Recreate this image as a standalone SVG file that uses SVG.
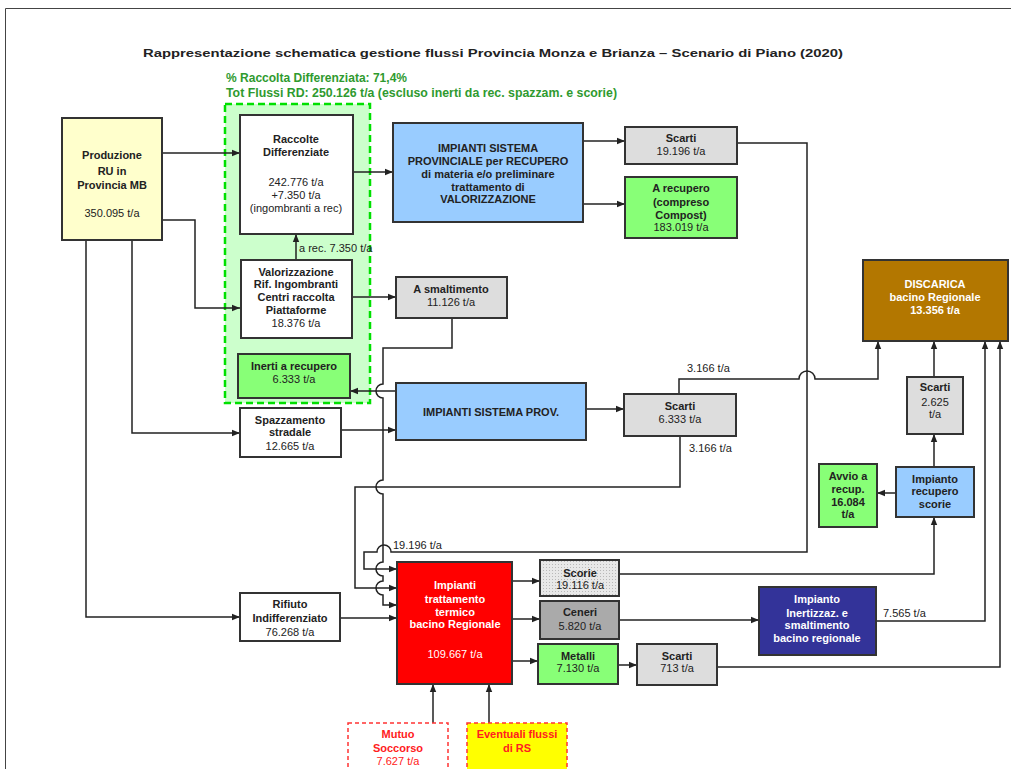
<svg xmlns="http://www.w3.org/2000/svg" width="1011" height="769" viewBox="0 0 1011 769">
<defs>
<style>
.bx{stroke:#333;stroke-width:2}
.c{fill:none;stroke:#222;stroke-width:1.5}
.ca{fill:none;stroke:#222;stroke-width:1.5;marker-end:url(#a)}
text{font-family:'Liberation Sans',Arial,sans-serif;font-size:11px;fill:#222}
.b{font-weight:bold;text-anchor:middle}
.n{text-anchor:middle}
.w{fill:#fff}
.r{fill:#ff2020}
.g{fill:#2f9a2f;font-weight:bold;font-size:12px}
</style>
<marker id="a" viewBox="0 0 10 10" refX="10" refY="5" markerWidth="8" markerHeight="8" markerUnits="userSpaceOnUse" orient="auto"><path d="M0,1 L10,5 L0,9 z" fill="#222"/></marker>
<pattern id="dots" width="3" height="3" patternUnits="userSpaceOnUse"><rect width="3" height="3" fill="#e8e8e8"/><rect width="1" height="1" fill="#b8b8b8"/></pattern>
</defs>
<rect width="1011" height="769" fill="#fff"/>
<path d="M5.5,769 V8.5 H1011" fill="none" stroke="#444" stroke-width="1"/>

<g id="title">
<text x="143" y="57" font-size="15" font-weight="bold" textLength="700" lengthAdjust="spacingAndGlyphs" fill="#111">Rappresentazione schematica gestione flussi Provincia Monza e Brianza – Scenario di Piano (2020)</text>
<text class="g" x="226" y="82" textLength="181" lengthAdjust="spacingAndGlyphs">% Raccolta Differenziata: 71,4%</text>
<text class="g" x="226" y="97" textLength="391" lengthAdjust="spacingAndGlyphs">Tot Flussi RD: 250.126 t/a (escluso inerti da rec. spazzam. e scorie)</text>
</g>

<g id="rd-area">
<rect x="225" y="104" width="145" height="299" fill="#ccffcc" stroke="#00e000" stroke-width="2.5" stroke-dasharray="7,4"/>
</g>

<g id="connectors">
<path class="ca" d="M162,153 H240"/>
<path class="ca" d="M162,220 H195 V308 H240"/>
<path class="ca" d="M132,240 V433 H240"/>
<path class="ca" d="M86,240 V617 H240"/>
<path class="ca" d="M296,260 V234"/>
<path class="ca" d="M353,172 H393"/>
<path class="ca" d="M352,297 H396"/>
<path class="ca" d="M583,141 H625"/>
<path class="ca" d="M583,204 H625"/>
<path class="ca" d="M737,143 H807 V552 H391 A7,7 0 0 0 377,552 H364 V569 H397"/>
<path class="ca" d="M680,436 V487 H355 V588 H397"/>
<path class="ca" d="M452,318 V348 H383 V384 A7,7 0 0 0 383,398 V480 A7,7 0 0 0 383,494 V562 A7,7 0 0 0 383,576 V581 A7,7 0 0 0 383,595 V605 H397"/>
<path class="ca" d="M396,391 H350"/>
<path class="ca" d="M341,430 H396"/>
<path class="ca" d="M586,409 H624"/>
<path class="ca" d="M679,394 V379 H799 A8,8 0 0 1 815,379 H878 V341"/>
<path class="ca" d="M340,618 H397"/>
<path class="ca" d="M512,581 H540"/>
<path class="ca" d="M512,619 H540"/>
<path class="ca" d="M512,661 H538"/>
<path class="ca" d="M618,665 H637"/>
<path class="ca" d="M619,574 H934 V517"/>
<path class="ca" d="M619,620 H759"/>
<path class="ca" d="M876,621 H985 V341"/>
<path class="ca" d="M717,667 H1000 V341"/>
<path class="ca" d="M896,493 H877"/>
<path class="ca" d="M934,467 V434"/>
<path class="ca" d="M934,377 V341"/>
<path class="ca" d="M433,723 V684"/>
<path class="ca" d="M489,723 V684"/>
<text x="299" y="252">a rec. 7.350 t/a</text>
<text x="687" y="372">3.166 t/a</text>
<text x="689" y="452">3.166 t/a</text>
<text x="393" y="549">19.196 t/a</text>
<text x="883" y="617">7.565 t/a</text>
</g>

<g id="produzione">
<rect class="bx" x="62" y="118" width="100" height="122" fill="#ffffcc"/>
<text class="b" x="112" y="159" font-size="12">Produzione</text>
<text class="b" x="112" y="175" font-size="12">RU in</text>
<text class="b" x="112" y="189" font-size="12">Provincia MB</text>
<text class="n" x="112" y="217" font-size="12">350.095 t/a</text>
</g>

<g id="raccolte">
<rect class="bx" x="240" y="115" width="113" height="119" fill="#fff"/>
<text class="b" x="296" y="143">Raccolte</text>
<text class="b" x="296" y="156">Differenziate</text>
<text class="n" x="296" y="186">242.776 t/a</text>
<text class="n" x="296" y="199">+7.350 t/a</text>
<text class="n" x="296" y="212">(ingombranti a rec)</text>
</g>

<g id="valorizzazione">
<rect class="bx" x="241" y="260" width="111" height="78" fill="#fff"/>
<text class="b" x="296" y="276">Valorizzazione</text>
<text class="b" x="296" y="288">Rif. Ingombranti</text>
<text class="b" x="296" y="301">Centri raccolta</text>
<text class="b" x="296" y="314">Piattaforme</text>
<text class="n" x="296" y="327">18.376 t/a</text>
</g>

<g id="inerti">
<rect class="bx" x="238" y="354" width="112" height="44" fill="#88ff77"/>
<text class="b" x="294" y="370">Inerti a recupero</text>
<text class="n" x="294" y="383">6.333 t/a</text>
</g>

<g id="spazzamento">
<rect class="bx" x="240" y="408" width="101" height="49" fill="#fff"/>
<text class="b" x="290" y="424">Spazzamento</text>
<text class="b" x="290" y="436">stradale</text>
<text class="n" x="290" y="450">12.665 t/a</text>
</g>

<g id="rifiuto">
<rect class="bx" x="240" y="593" width="100" height="48" fill="#fff"/>
<text class="b" x="290" y="608">Rifiuto</text>
<text class="b" x="290" y="622">Indifferenziato</text>
<text class="n" x="290" y="636">76.268 t/a</text>
</g>

<g id="impianti-sistema">
<rect class="bx" x="393" y="123" width="190" height="99" fill="#99ccff"/>
<text class="b" x="488" y="152">IMPIANTI  SISTEMA</text>
<text class="b" x="488" y="165">PROVINCIALE per RECUPERO</text>
<text class="b" x="488" y="178">di materia e/o preliminare</text>
<text class="b" x="488" y="191">trattamento di</text>
<text class="b" x="488" y="203">VALORIZZAZIONE</text>
</g>

<g id="scarti-19196">
<rect class="bx" x="625" y="127" width="112" height="37" fill="#dddddd"/>
<text class="b" x="681" y="142">Scarti</text>
<text class="n" x="681" y="155">19.196 t/a</text>
</g>

<g id="a-recupero">
<rect class="bx" x="625" y="177" width="112" height="61" fill="#88ff77"/>
<text class="b" x="681" y="192">A recupero</text>
<text class="b" x="681" y="206">(compreso</text>
<text class="b" x="681" y="219">Compost)</text>
<text class="n" x="681" y="231">183.019 t/a</text>
</g>

<g id="a-smaltimento">
<rect class="bx" x="396" y="277" width="111" height="41" fill="#dddddd"/>
<text class="b" x="451" y="293">A smaltimento</text>
<text class="n" x="451" y="306">11.126 t/a</text>
</g>

<g id="impianti-prov">
<rect class="bx" x="396" y="383" width="190" height="57" fill="#99ccff"/>
<text class="b" x="491" y="416">IMPIANTI  SISTEMA  PROV.</text>
</g>

<g id="scarti-6333">
<rect class="bx" x="624" y="394" width="112" height="42" fill="#dddddd"/>
<text class="b" x="680" y="410">Scarti</text>
<text class="n" x="680" y="423">6.333 t/a</text>
</g>

<g id="discarica">
<rect class="bx" x="863" y="260" width="145" height="81" fill="#b37700"/>
<text class="b w" x="935" y="288">DISCARICA</text>
<text class="b w" x="935" y="301">bacino Regionale</text>
<text class="b w" x="935" y="314">13.356 t/a</text>
</g>

<g id="scarti-2625">
<rect class="bx" x="907" y="377" width="56" height="57" fill="#dddddd"/>
<text class="b" x="935" y="391">Scarti</text>
<text class="n" x="935" y="406">2.625</text>
<text class="n" x="935" y="418">t/a</text>
</g>

<g id="impianto-scorie">
<rect class="bx" x="896" y="467" width="78" height="50" fill="#99ccff"/>
<text class="b" x="935" y="483">Impianto</text>
<text class="b" x="935" y="495">recupero</text>
<text class="b" x="935" y="508">scorie</text>
</g>

<g id="avvio">
<rect class="bx" x="819" y="464" width="58" height="63" fill="#88ff77"/>
<text class="b" x="848" y="480">Avvio a</text>
<text class="b" x="848" y="493">recup.</text>
<text class="b" x="848" y="506">16.084</text>
<text class="b" x="848" y="518">t/a</text>
</g>

<g id="trattamento">
<rect class="bx" x="397" y="562" width="115" height="122" fill="#ff0000"/>
<text class="b w" x="455" y="589">Impianti</text>
<text class="b w" x="455" y="603">trattamento</text>
<text class="b w" x="455" y="616">termico</text>
<text class="b w" x="455" y="628">bacino Regionale</text>
<text class="n w" x="455" y="658">109.667 t/a</text>
</g>

<g id="scorie">
<rect class="bx" x="540" y="560" width="79" height="36" fill="url(#dots)"/>
<text class="b" x="580" y="577">Scorie</text>
<text class="n" x="580" y="589">19.116 t/a</text>
</g>

<g id="ceneri">
<rect class="bx" x="540" y="601" width="79" height="38" fill="#aaaaaa"/>
<text class="b" x="580" y="616">Ceneri</text>
<text class="n" x="580" y="630">5.820 t/a</text>
</g>

<g id="metalli">
<rect class="bx" x="538" y="644" width="80" height="40" fill="#88ff77"/>
<text class="b" x="578" y="660">Metalli</text>
<text class="n" x="578" y="672">7.130 t/a</text>
</g>

<g id="scarti-713">
<rect class="bx" x="637" y="644" width="80" height="41" fill="#dddddd"/>
<text class="b" x="677" y="660">Scarti</text>
<text class="n" x="677" y="672">713 t/a</text>
</g>

<g id="inertizzazione">
<rect class="bx" x="759" y="587" width="117" height="68" fill="#333399"/>
<text class="b w" x="817" y="603">Impianto</text>
<text class="b w" x="817" y="617">Inertizzaz. e</text>
<text class="b w" x="817" y="629">smaltimento</text>
<text class="b w" x="817" y="642">bacino regionale</text>
</g>

<g id="mutuo-soccorso">
<rect x="348" y="723" width="100" height="55" fill="#fff" stroke="#ff3333" stroke-width="1.5" stroke-dasharray="4,3"/>
<text class="b r" x="398" y="738">Mutuo</text>
<text class="b r" x="398" y="752">Soccorso</text>
<text class="n r" x="398" y="765">7.627 t/a</text>
</g>

<g id="eventuali">
<rect x="467" y="723" width="100" height="55" fill="#ffff00" stroke="#ff3333" stroke-width="1.5" stroke-dasharray="4,3"/>
<text class="b r" x="517" y="738">Eventuali flussi</text>
<text class="b r" x="517" y="752">di RS</text>
</g>
</svg>
